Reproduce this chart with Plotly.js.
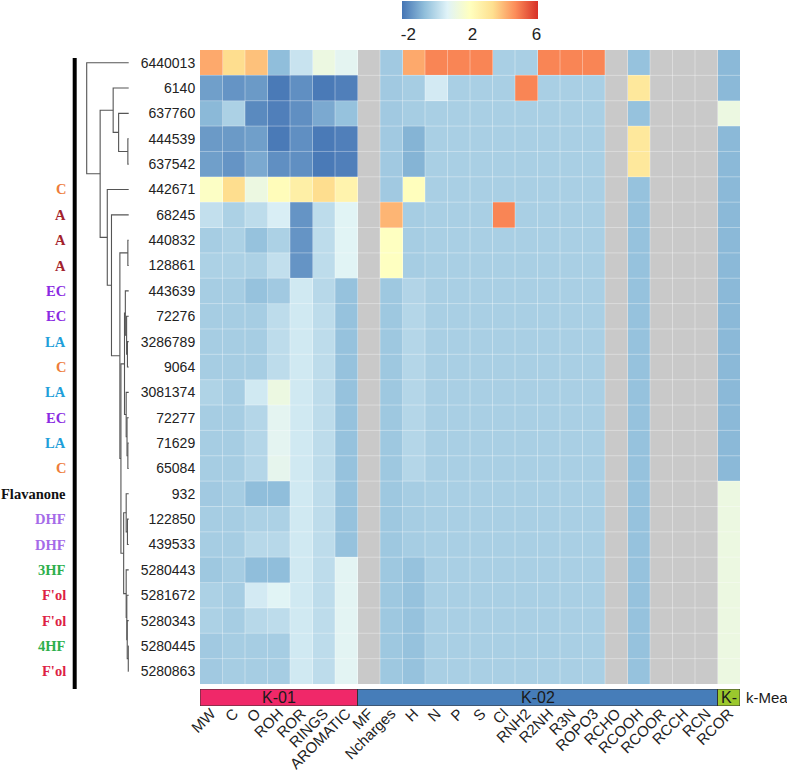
<!DOCTYPE html>
<html>
<head>
<meta charset="utf-8">
<script src="https://cdn.plot.ly/plotly-3.0.1.min.js"></script>
<style>html,body{margin:0;padding:0;background:#fff;}#chart{width:787px;height:773px;}</style>
</head>
<body>
<div id="chart"></div>
<script>
const NA = null;
const rowLabels = ["6440013","6140","637760","444539","637542","442671","68245","440832","128861","443639","72276","3286789","9064","3081374","72277","71629","65084","932","122850","439533","5280443","5281672","5280343","5280445","5280863"];
const classLabels = ["","","","","","C","A","A","A","EC","EC","LA","C","LA","EC","LA","C","Flavanone","DHF","DHF","3HF","F'ol","F'ol","4HF","F'ol"];
const classColors = {"C":"#EE7D3B","A":"#A3232C","EC":"#8A2BE2","LA":"#1F9FDA","Flavanone":"#111111","DHF":"#A56BE8","3HF":"#2DAF4C","4HF":"#2DAF4C","F'ol":"#DD1F45"};
const colLabels = ["MW","C","O","ROH","ROR","RINGS","AROMATIC","MF","Ncharges","H","N","P","S","Cl","RNH2","R2NH","R3N","ROPO3","RCHO","RCOOH","RCOOR","RCCH","RCN","RCOR"];
const colGroups = ["K-01","K-01","K-01","K-01","K-01","K-01","K-01","K-02","K-02","K-02","K-02","K-02","K-02","K-02","K-02","K-02","K-02","K-02","K-02","K-02","K-02","K-02","K-02","K-03"];
const groupNames = ["K-01","K-02","K-03"];
const groupText = ["K-01","K-02","K-"];
const groupColors = ["#F02869","#467DB9","#9BC82D"];
const annotationTitle = "k-Mea";
// scaled values, rows x columns (MW ... RCOR); NA = constant column
const zValues = [
 [ 4.2, 3.3, 3.8,-1.0, 0.0, 1.0, 0.6,NA,-0.70, 4.2, 4.8, 4.8, 4.8,-0.55,-0.55, 4.8, 4.8, 4.8,NA,-0.9,NA,NA,NA,-1.1],
 [-1.6,-1.8,-1.7,-2.3,-1.9,-2.3,-2.2,NA,-0.70,-0.6, 0.2,-0.55,-0.55,-0.55, 4.8,-0.55,-0.55,-0.55,NA, 2.9,NA,NA,NA,-1.1],
 [-1.1,-0.5,-2.0,-2.2,-1.9,-1.4,-0.9,NA,-0.70,-0.6,-0.55,-0.55,-0.55,-0.55,-0.55,-0.55,-0.55,-0.55,NA,-0.9,NA,NA,NA, 1.0],
 [-1.7,-1.7,-1.6,-2.3,-1.9,-2.3,-2.2,NA,-0.70,-1.2,-0.55,-0.55,-0.55,-0.55,-0.55,-0.55,-0.55,-0.55,NA, 2.9,NA,NA,NA,-1.1],
 [-1.6,-1.8,-1.4,-1.9,-1.9,-2.3,-2.2,NA,-0.70,-1.2,-0.55,-0.55,-0.55,-0.55,-0.55,-0.55,-0.55,-0.55,NA, 2.9,NA,NA,NA,-1.1],
 [ 1.7, 3.3, 1.0, 2.0, 2.6, 3.3, 2.4,NA,-0.70, 1.9,-0.55,-0.55,-0.55,-0.55,-0.55,-0.55,-0.55,-0.55,NA,-0.9,NA,NA,NA,-1.1],
 [-0.1,-0.5,-0.2, 0.3,-1.8,-0.2, 0.5,NA, 4.0,-0.6,-0.55,-0.55,-0.55, 4.8,-0.55,-0.55,-0.55,-0.55,NA,-0.9,NA,NA,NA,-1.1],
 [-0.6,-0.5,-0.9,-0.5,-1.8,-0.2, 0.5,NA, 1.8,-0.6,-0.55,-0.55,-0.55,-0.55,-0.55,-0.55,-0.55,-0.55,NA,-0.9,NA,NA,NA,-1.1],
 [-0.5,-0.5,-0.5,-0.1,-1.8,-0.2, 0.5,NA, 1.8,-0.6,-0.55,-0.55,-0.55,-0.55,-0.55,-0.55,-0.55,-0.55,NA,-0.9,NA,NA,NA,-1.1],
 [-0.6,-0.6,-0.9,-0.7,0.15,-0.3,-0.9,NA,-0.75,-0.4,-0.55,-0.55,-0.55,-0.55,-0.55,-0.55,-0.55,-0.55,NA,-0.9,NA,NA,NA,-1.1],
 [-0.6,-0.6,-0.6,-0.2,0.15,-0.2,-0.9,NA,-0.75,-0.35,-0.55,-0.55,-0.55,-0.55,-0.55,-0.55,-0.55,-0.55,NA,-0.9,NA,NA,NA,-1.1],
 [-0.6,-0.6,-0.6,-0.2,0.15,-0.2,-0.9,NA,-0.75,-0.35,-0.55,-0.55,-0.55,-0.55,-0.55,-0.55,-0.55,-0.55,NA,-0.9,NA,NA,NA,-1.1],
 [-0.6,-0.6,-0.6,-0.2,0.15,-0.2,-0.9,NA,-0.75,-0.35,-0.55,-0.55,-0.55,-0.55,-0.55,-0.55,-0.55,-0.55,NA,-0.9,NA,NA,NA,-1.1],
 [-0.45,-0.6,0.15,1.0,0.15,-0.2,-0.9,NA,-0.75,-0.35,-0.55,-0.55,-0.55,-0.55,-0.55,-0.55,-0.55,-0.55,NA,-0.9,NA,NA,NA,-1.1],
 [-0.6,-0.6,-0.35,0.6,0.15,-0.2,-0.9,NA,-0.75,-0.35,-0.55,-0.55,-0.55,-0.55,-0.55,-0.55,-0.55,-0.55,NA,-0.9,NA,NA,NA,-1.1],
 [-0.6,-0.6,-0.35,0.6,0.15,-0.2,-0.9,NA,-0.75,-0.35,-0.55,-0.55,-0.55,-0.55,-0.55,-0.55,-0.55,-0.55,NA,-0.9,NA,NA,NA,-1.1],
 [-0.6,-0.6,-0.35,0.7,0.15,-0.2,-0.9,NA,-0.75,-0.35,-0.55,-0.55,-0.55,-0.55,-0.55,-0.55,-0.55,-0.55,NA,-0.9,NA,NA,NA,-1.1],
 [-0.7,-0.6,-1.0,-1.0,0.15,-0.2,-0.9,NA,-0.75,-0.6,-0.55,-0.55,-0.55,-0.55,-0.55,-0.55,-0.55,-0.55,NA,-0.9,NA,NA,NA, 1.0],
 [-0.6,-0.6,-0.5,-0.5,0.15,-0.2,-0.9,NA,-0.75,-0.6,-0.55,-0.55,-0.55,-0.55,-0.55,-0.55,-0.55,-0.55,NA,-0.9,NA,NA,NA, 1.0],
 [-0.6,-0.6,-0.3,-0.3,0.15,-0.2,-0.9,NA,-0.75,-0.6,-0.55,-0.55,-0.55,-0.55,-0.55,-0.55,-0.55,-0.55,NA,-0.9,NA,NA,NA, 1.0],
 [-0.75,-0.6,-1.0,-1.0,0.15,-0.2,0.55,NA,-0.75,-0.9,-0.55,-0.55,-0.55,-0.55,-0.55,-0.55,-0.55,-0.55,NA,-0.9,NA,NA,NA, 1.0],
 [-0.5,-0.6, 0.2, 0.5,0.15,-0.2,0.55,NA,-0.75,-0.9,-0.55,-0.55,-0.55,-0.55,-0.55,-0.55,-0.55,-0.55,NA,-0.9,NA,NA,NA, 1.0],
 [-0.5,-0.6,-0.3,-0.2,0.15,-0.2,0.55,NA,-0.75,-0.9,-0.55,-0.55,-0.55,-0.55,-0.55,-0.55,-0.55,-0.55,NA,-0.9,NA,NA,NA, 1.0],
 [-0.7,-0.6,-0.6,-0.6,0.15,-0.2,0.55,NA,-0.75,-0.9,-0.55,-0.55,-0.55,-0.55,-0.55,-0.55,-0.55,-0.55,NA,-0.9,NA,NA,NA, 1.0],
 [-0.7,-0.6,-0.6,-0.6,0.15,-0.2,0.55,NA,-0.75,-0.9,-0.55,-0.55,-0.55,-0.55,-0.55,-0.55,-0.55,-0.55,NA,-0.9,NA,NA,NA, 1.0]
];
// dendrogram: [height, left, right], leaves are row indices
const dendroTree = [10.0, 0, [6.8, [3.7, 1, [2.4, 2, [0.2, 3, 4]]],
  [5.1, 5, [4.1, 6, [2.1, [0.2, 7, 8],
    [1.85, [1.0, [0.8, 9, [0.5, 10, [0.3, 11, 12]]], [0.6, 13, [0.4, 14, [0.2, 15, 16]]]],
           [1.2, [0.6, 17, [0.3, 18, 19]], [0.6, 20, [0.45, 21, [0.35, 22, [0.1, 23, 24]]]]]]]]]]];
const colorTicks = [-2, 2, 6];
const colorTickText = ["-2", "2", "6"];
const zMin = -2.4, zMax = 6.1;
const rdylbu = ["#4575B4","#91BFDB","#E0F3F8","#FFFFBF","#FEE090","#FC8D59","#D73027"];

// ---------- build ----------
const W = 787, H = 773;
const px = v => v / W, py = v => 1 - v / H;
const nR = rowLabels.length, nC = colLabels.length;
const rowIdx = rowLabels.map((_, i) => i);
const colIdx = colLabels.map((_, i) => i);

const naMask = zValues.map(r => r.map(v => v === null ? 0 : null));

// dendrogram segments
const dx = [], dy = [];
function walk(node) {
  if (typeof node === 'number') return {y: node, h: 0};
  const [h, l, r] = node;
  const a = walk(l), b = walk(r);
  dx.push(a.h, h, h, b.h, null);
  dy.push(a.y, a.y, b.y, b.y, null);
  return {y: (a.y + b.y) / 2, h: h};
}
walk(dendroTree);

const groupIndex = colGroups.map(g => groupNames.indexOf(g));
const gcs = [];
groupColors.forEach((c, i) => { gcs.push([i / groupColors.length, c]); gcs.push([(i + 1) / groupColors.length, c]); });

const SANS = 'Liberation Sans, Arial, sans-serif';
const traces = [
  {type: 'heatmap', x: colIdx, y: rowIdx, z: naMask, xaxis: 'x', yaxis: 'y',
   colorscale: [[0, '#C9C9C9'], [1, '#C9C9C9']], showscale: false, hoverinfo: 'skip', zmin: 0, zmax: 1},
  {type: 'heatmap', x: colIdx, y: rowIdx, z: zValues, xaxis: 'x', yaxis: 'y',
   zmin: zMin, zmax: zMax,
   colorscale: rdylbu.map((c, i) => [i / (rdylbu.length - 1), c]),
   colorbar: {orientation: 'h', lenmode: 'pixels', len: 136, thicknessmode: 'pixels', thickness: 18,
     x: px(470), xanchor: 'center', y: py(1), yanchor: 'top', xpad: 0, ypad: 0,
     tickmode: 'array', tickvals: colorTicks, ticktext: colorTickText, ticks: '', outlinewidth: 0,
     tickfont: {size: 17, color: '#222', family: SANS}}},
  {type: 'heatmap', x: colIdx, y: [0], z: [groupIndex], xaxis: 'x', yaxis: 'y2',
   zmin: -0.5, zmax: groupNames.length - 0.5, colorscale: gcs, showscale: false, hoverinfo: 'skip'},
  {type: 'scatter', mode: 'lines', x: dx, y: dy, xaxis: 'x3', yaxis: 'y',
   line: {color: '#555', width: 1.1}, hoverinfo: 'skip', showlegend: false}
];

const shapes = [];
for (let k = 1; k < nC; k++) shapes.push({type: 'line', xref: 'x', yref: 'y domain', x0: k - 0.5, x1: k - 0.5, y0: 0, y1: 1, line: {color: 'rgba(255,255,255,0.35)', width: 1}, layer: 'above'});
for (let k = 1; k < nR; k++) shapes.push({type: 'line', xref: 'x domain', yref: 'y', x0: 0, x1: 1, y0: k - 0.5, y1: k - 0.5, line: {color: 'rgba(255,255,255,0.35)', width: 1}, layer: 'above'});
// group bar borders + labels
const annotations = [];
groupNames.forEach((g, gi) => {
  const idx = colIdx.filter(i => colGroups[i] === g);
  const s = Math.min(...idx), e = Math.max(...idx);
  shapes.push({type: 'rect', xref: 'x', yref: 'y2', x0: s - 0.5, x1: e + 0.5, y0: -0.5, y1: 0.5, line: {color: '#333', width: 1}, layer: 'above'});
  annotations.push({xref: 'x', yref: 'y2', x: (s + e) / 2, y: 0, text: groupText[gi], showarrow: false,
    font: {size: 16, color: '#1a1a1a', family: SANS}});
});
annotations.push({xref: 'paper', yref: 'y2', x: px(744), y: 0, xanchor: 'left', text: annotationTitle, showarrow: false,
  font: {size: 15, color: '#1a1a1a', family: SANS}});
// black bar
shapes.push({type: 'line', xref: 'paper', yref: 'paper', x0: px(74.7), x1: px(74.7), y0: py(58), y1: py(689), line: {color: '#000', width: 4}});
// class labels
classLabels.forEach((c, i) => {
  if (!c) return;
  annotations.push({xref: 'paper', yref: 'y', x: px(68), y: i, xanchor: 'right', text: '<b>' + c + '</b>', showarrow: false,
    font: {size: 14.5, color: classColors[c], family: 'Liberation Serif, Times New Roman, serif'}});
});

const layout = {
  width: W, height: H, margin: {l: 0, r: 0, t: 0, b: 0},
  paper_bgcolor: '#fff', plot_bgcolor: 'rgba(0,0,0,0)', showlegend: false,
  font: {family: SANS, color: '#222'},
  xaxis: {domain: [px(200), px(740)], range: [-0.5, nC - 0.5], anchor: 'y2', tickmode: 'array', tickvals: colIdx, ticktext: colLabels,
    tickangle: -45, ticks: '', ticklabelstandoff: -5, tickfont: {size: 15, color: '#222'},
    showgrid: false, zeroline: false, showline: false, fixedrange: true},
  yaxis: {domain: [py(684), py(50)], range: [nR - 0.5, -0.5], anchor: 'x', tickmode: 'array', tickvals: rowIdx, ticktext: rowLabels,
    ticks: 'outside', ticklen: 1, tickcolor: 'rgba(0,0,0,0)', tickfont: {size: 14, color: '#222'},
    showgrid: false, zeroline: false, showline: false, fixedrange: true},
  yaxis2: {domain: [py(706), py(689)], range: [-0.5, 0.5], anchor: 'x', showticklabels: false, ticks: '', showgrid: false, zeroline: false},
  xaxis3: {domain: [px(80), px(132)], range: [(128.7 - 80) / 4.2, (128.7 - 132) / 4.2], anchor: 'y', visible: false, showgrid: false, zeroline: false},
  shapes: shapes, annotations: annotations
};
Plotly.newPlot('chart', traces, layout, {staticPlot: true, displayModeBar: false});
</script>
</body>
</html>
